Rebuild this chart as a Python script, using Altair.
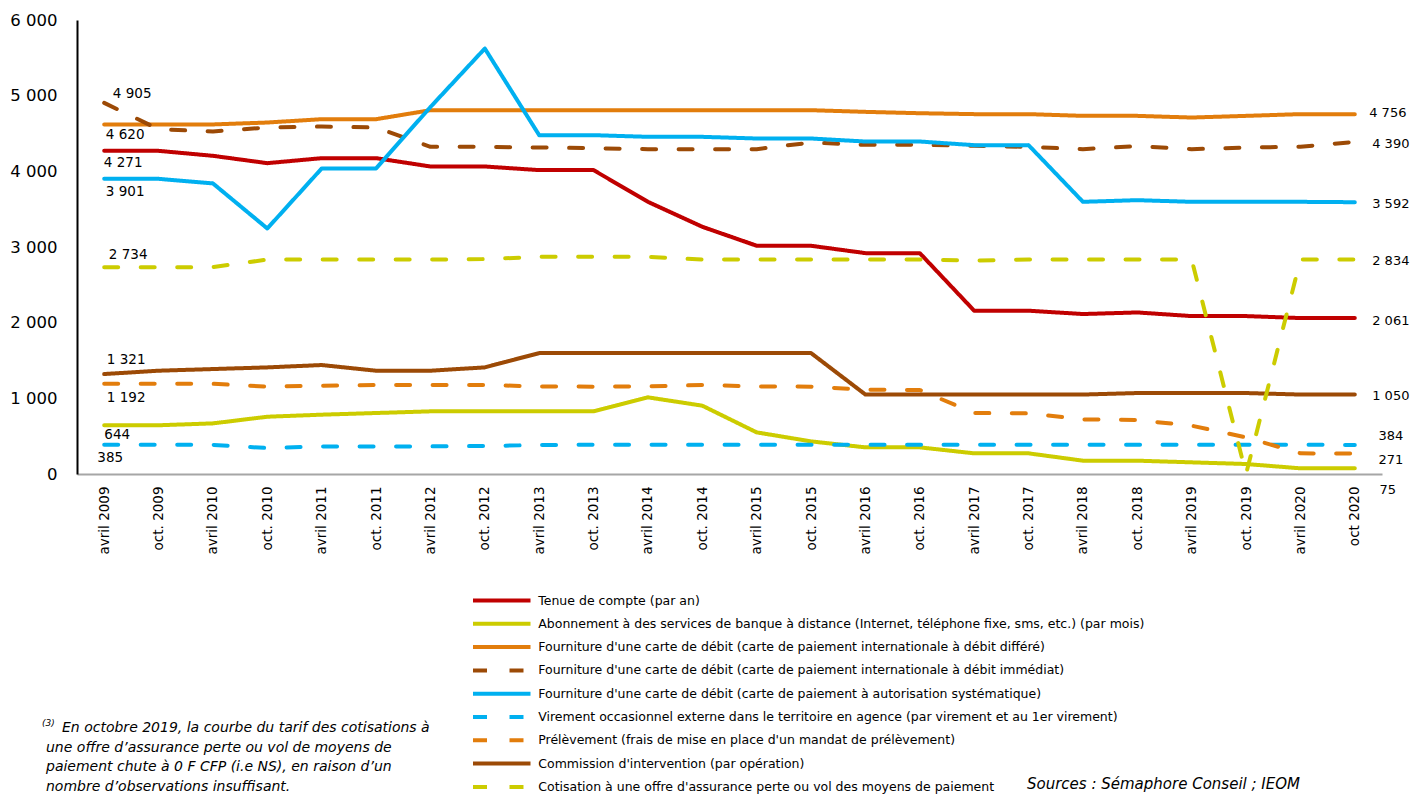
import altair as alt
import pandas as pd

cats = ["avril 2009", "oct. 2009", "avril 2010", "oct. 2010", "avril 2011", "oct. 2011",
        "avril 2012", "oct. 2012", "avril 2013", "oct. 2013", "avril 2014", "oct. 2014",
        "avril 2015", "oct. 2015", "avril 2016", "oct. 2016", "avril 2017", "oct. 2017",
        "avril 2018", "oct. 2018", "avril 2019", "oct. 2019", "avril 2020", "oct 2020"]

series_names = [
    "Tenue de compte (par an)",
    "Abonnement à des services de banque  à distance (Internet, téléphone fixe, sms, etc.) (par mois)",
    "Fourniture d'une carte de débit (carte de paiement internationale à débit différé)",
    "Fourniture d'une carte de débit (carte de paiement internationale à débit immédiat)",
    "Fourniture d'une carte de débit (carte de paiement à autorisation systématique)",
    "Virement occasionnel externe dans le territoire en agence (par virement et au 1er virement)",
    "Prélèvement (frais de mise en place d'un mandat de prélèvement)",
    "Commission d'intervention (par opération)",
    "Cotisation à une offre d'assurance perte ou vol des moyens de paiement",
]

tenue = [4271, 4271, 4205, 4108, 4174, 4174, 4064, 4064, 4016, 4016, 3597, 3267,
         3016, 3016, 2919, 2919, 2158, 2158, 2114, 2135, 2087, 2087, 2061, 2061]
abonnement = [644, 644, 669, 757, 784, 806, 828, 828, 828, 828, 1013, 903,
              550, 431, 352, 352, 273, 273, 176, 176, 154, 132, 75, 75]
differe = [4620, 4620, 4620, 4645, 4689, 4689, 4808, 4808, 4808, 4808, 4808, 4808,
           4808, 4808, 4786, 4768, 4756, 4756, 4733, 4733, 4711, 4733, 4756, 4756]
immediat = [4905, 4557, 4527, 4579, 4592, 4579, 4324, 4324, 4315, 4306, 4293, 4293,
            4293, 4381, 4350, 4350, 4337, 4324, 4293, 4333, 4293, 4315, 4324, 4390]
systematique = [3901, 3901, 3840, 3245, 4038, 4038, 4850, 5623, 4478, 4478, 4456, 4456,
                4434, 4434, 4394, 4394, 4346, 4346, 3597, 3619, 3597, 3597, 3597, 3592]
virement = [385, 385, 385, 343, 365, 365, 365, 370, 383, 387, 387, 387,
            387, 387, 387, 387, 387, 387, 387, 387, 387, 387, 387, 384]
prelevement = [1192, 1192, 1192, 1154, 1167, 1176, 1176, 1176, 1158, 1154, 1158, 1176,
               1158, 1154, 1114, 1110, 806, 801, 722, 713, 638, 484, 273, 271]
commission = [1321, 1365, 1387, 1409, 1440, 1365, 1365, 1409, 1598, 1598, 1598, 1598,
              1598, 1598, 1050, 1050, 1050, 1050, 1050, 1070, 1070, 1070, 1050, 1050]
cotisation = [2734, 2734, 2734, 2834, 2834, 2834, 2834, 2840, 2870, 2870, 2870, 2834,
              2834, 2834, 2834, 2834, 2820, 2834, 2834, 2834, 2834, 0, 2834, 2834]

series_values = [tenue, abonnement, differe, immediat, systematique,
                 virement, prelevement, commission, cotisation]

colors = ["#C00000", "#CCCC00", "#E27D0C", "#9C4A06", "#00B0F0",
          "#00B0F0", "#E27D0C", "#9C4A06", "#CCCC00"]
SOLID = [1, 0]
DASH = [14, 22.5]
dashes = [SOLID, SOLID, SOLID, DASH, SOLID, DASH, DASH, SOLID, DASH]

# data labels: (series index, category index, dx, dy)
labels = [
    (3, 0, 28, -9), (2, 0, 21, 11), (0, 0, 19, 12), (4, 0, 21, 13),
    (8, 0, 24, -12), (7, 0, 22, -14), (6, 0, 22, 14), (1, 0, 13, 10), (5, 0, 6, 13),
    (2, 23, 33, -1), (3, 23, 36, 2), (4, 23, 36, 2), (8, 23, 36, 1), (0, 23, 36, 3),
    (7, 23, 36, 1), (5, 23, 36, -9), (6, 23, 36, 7), (1, 23, 33, 22),
]

rows = []
for name, vals in zip(series_names, series_values):
    for c, v in zip(cats, vals):
        rows.append({"series": name, "cat": c, "value": v})
df = pd.DataFrame(rows)

FONT = "DejaVu Sans"

x_scale = alt.Scale(domain=cats, type="point", padding=0.5)
y_scale = alt.Scale(domain=[0, 6000], nice=False)

legend = alt.Legend(
    title=None, orient="none", legendX=394, legendY=567, direction="vertical",
    symbolType="M-2.5,0H2.5", symbolSize=529, symbolStrokeWidth=4,
    symbolOffset=17.25, labelOffset=23, labelFontSize=12.5, labelFont=FONT,
    labelColor="black", labelLimit=1000, rowPadding=1.3, padding=0,
)

lines = alt.Chart(df).mark_line(strokeWidth=4, strokeCap="round", strokeJoin="round").encode(
    x=alt.X("cat:O", sort=cats, scale=x_scale,
            axis=alt.Axis(title=None, labelAngle=-90, labelFontSize=13.5, labelFont=FONT,
                          labelColor="black", ticks=False, domainColor="#A6A6A6",
                          domainWidth=2, labelPadding=12, grid=False)),
    y=alt.Y("value:Q", scale=y_scale,
            axis=alt.Axis(title=None, values=list(range(0, 6001, 500)),
                          labelExpr="replace(format(datum.value, ','), ',', ' ')",
                          ticks=False, domainColor="black", domainWidth=2,
                          labelFontSize=16.5, labelFont=FONT, labelPadding=20,
                          labelOverlap=False, grid=False, labelColor="black")),
    color=alt.Color("series:N", scale=alt.Scale(domain=series_names, range=colors), legend=legend),
    strokeDash=alt.StrokeDash("series:N", scale=alt.Scale(domain=series_names, range=dashes), legend=legend),
    detail="series:N",
)

layers = [lines]
for si, ci, dx, dy in labels:
    v = series_values[si][ci]
    txt = f"{v:,}".replace(",", " ")
    ldf = pd.DataFrame({"cat": [cats[ci]], "value": [v], "t": [txt]})
    layers.append(
        alt.Chart(ldf).mark_text(dx=dx, dy=dy, fontSize=13.5 if ci == 0 else 13, font=FONT,
                                 color="black", align="center", baseline="middle").encode(
            x=alt.X("cat:O", sort=cats, scale=x_scale),
            y=alt.Y("value:Q", scale=y_scale),
            text="t:N",
        )
    )

one = pd.DataFrame({"a": [0]})
layers.append(alt.Chart(one).mark_text(fontSize=9, font=FONT, fontStyle="italic", align="left",
                                       baseline="middle", color="black").encode(
    x=alt.value(-35), y=alt.value(703), text=alt.value("(3)")))
layers.append(alt.Chart(one).mark_text(fontSize=14, font=FONT, fontStyle="italic", align="left",
                                       baseline="middle", color="black").encode(
    x=alt.value(-15), y=alt.value(708),
    text=alt.value("En octobre 2019, la courbe du tarif des cotisations à")))
layers.append(alt.Chart(one).mark_text(fontSize=14, font=FONT, fontStyle="italic", align="left",
                                       baseline="middle", color="black", lineHeight=19.5).encode(
    x=alt.value(-31), y=alt.value(727.5),
    text=alt.value(["une offre d’assurance  perte ou vol de moyens de",
                    "paiement chute à 0 F CFP  (i.e NS), en raison d’un",
                    "nombre d’observations  insuffisant."])))
layers.append(alt.Chart(one).mark_text(fontSize=15, font=FONT, fontStyle="italic", align="left",
                                       baseline="middle", color="black").encode(
    x=alt.value(950), y=alt.value(764), text=alt.value("Sources : Sémaphore Conseil ; IEOM")))

chart = alt.layer(*layers).properties(
    width=1305, height=454,
    autosize=alt.AutoSizeParams(type="none"),
    padding={"left": 69, "top": 12, "right": 28, "bottom": 320},
).configure_view(stroke=None)

chart.save("out.html", embed_options={"renderer": "svg", "actions": False})
